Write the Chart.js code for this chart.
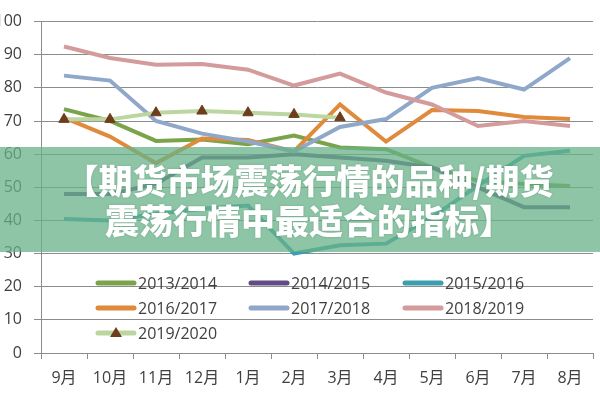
<!DOCTYPE html>
<html>
<head>
<meta charset="utf-8">
<script src="https://cdn.jsdelivr.net/npm/chart.js@4/dist/chart.umd.min.js"></script>
<style>
  html, body { margin: 0; padding: 0; background: #fff; }
  #wrap { position: relative; width: 600px; height: 400px; overflow: hidden; }
  #c { position: absolute; left: 0; top: 0; }
  #banner {
    position: absolute; left: 0; top: 147px; width: 600px; height: 105px;
    background: rgba(103,177,136,0.75);
    box-sizing: border-box; padding: 0 0 0 18px;
    color: #fff; font-family: "Noto Sans CJK SC", sans-serif; font-weight: 900;
    font-size: 34px; line-height: 40px; text-align: center; white-space: nowrap;
    text-shadow: 0 0 2px rgba(40,90,60,0.35);
  }
  #banner .l1 { margin-top: 13px; }
</style>
</head>
<body>
<div id="wrap">
  <canvas id="c" width="600" height="400"></canvas>
  <div id="banner"><div class="l1">【期货市场震荡行情的品种/期货</div><div>震荡行情中最适合的指标】</div></div>
</div>
<script>
const categories = ['9月','10月','11月','12月','1月','2月','3月','4月','5月','6月','7月','8月'];
const seriesNames = ['2013/2014','2014/2015','2015/2016','2016/2017','2017/2018','2018/2019','2019/2020'];
const s2013_2014 = [73.6, 70, 64, 64.4, 63, 65.6, 62, 61.5, 56, 52, 51, 50.4];
const s2014_2015 = [48, 48, 51, 59, 59, 60, 59, 58, 56, 50, 44, 44];
const s2015_2016 = [40.4, 40, 42, 43.5, 44.5, 30, 32.5, 33, 41, 50.5, 59.5, 61];
const s2016_2017 = [71, 65.3, 57.3, 64.7, 64.3, 60.8, 75, 63.8, 73.3, 73, 71.2, 70.6];
const s2017_2018 = [83.7, 82.2, 70, 66.2, 63.8, 60.8, 68.2, 70.6, 80, 83, 79.5, 89];
const s2018_2019 = [92.5, 89, 87, 87.2, 85.5, 80.7, 84.3, 78.6, 75, 68.5, 70, 68.5];
const s2019_2020 = [70.5, 70.5, 72.5, 73, 72.5, 72, 71, null, null, null, null, null];
const yMin = 0, yMax = 100, yStep = 10;

const colors = ['#7aa34a', '#634c84', '#3d9fae', '#e08a3c', '#8fa8ca', '#d49b9c', '#bcd6a2'];
const markerColor = '#6e3d1c';
const seriesValues = [s2013_2014, s2014_2015, s2015_2016, s2016_2017, s2017_2018, s2018_2019, s2019_2020];

const datasets = seriesValues.map((vals, i) => ({
  label: seriesNames[i],
  data: vals,
  borderColor: colors[i],
  backgroundColor: colors[i],
  borderWidth: 4,
  tension: 0,
  fill: false,
  order: 10 - i,
  pointRadius: i === 6 ? 6 : 0,
  pointStyle: 'triangle',
  pointBackgroundColor: markerColor,
  pointBorderColor: markerColor,
  pointBorderWidth: 1,
  spanGaps: false
}));

const font = "'Open Sans', 'Noto Sans CJK SC', sans-serif";
const gridColor = '#8c8c8c';

const legendPlugin = {
  id: 'insideLegend',
  afterDatasetsDraw(chart) {
    const ctx = chart.ctx;
    const cols = [98, 251, 405];
    const rows = [283, 308, 333];
    ctx.save();
    ctx.font = "16px " + font;
    ctx.textBaseline = 'middle';
    ctx.textAlign = 'left';
    chart.data.datasets.forEach((ds, i) => {
      const x = cols[i % 3], y = rows[Math.floor(i / 3)];
      ctx.strokeStyle = ds.borderColor;
      ctx.lineWidth = 5;
      ctx.lineCap = 'round';
      ctx.beginPath();
      ctx.moveTo(x, y);
      ctx.lineTo(x + 36, y);
      ctx.stroke();
      if (ds.pointRadius > 0) {
        ctx.fillStyle = markerColor;
        ctx.beginPath();
        ctx.moveTo(x + 18, y - 6);
        ctx.lineTo(x + 24, y + 4);
        ctx.lineTo(x + 12, y + 4);
        ctx.closePath();
        ctx.fill();
      }
      ctx.fillStyle = '#404040';
      ctx.fillText(ds.label, x + 40, y + 1);
    });
    ctx.restore();
  }
};

new Chart(document.getElementById('c'), {
  type: 'line',
  data: { labels: categories, datasets },
  plugins: [legendPlugin],
  options: {
    responsive: false,
    animation: false,
    layout: { padding: { top: 16, right: 3, left: 0, bottom: 0 } },
    plugins: { legend: { display: false }, tooltip: { enabled: false }, title: { display: false } },
    scales: {
      x: {
        offset: true,
        grid: { drawOnChartArea: false, offset: true, tickLength: 6, color: gridColor },
        border: { display: true, color: gridColor, width: 1 },
        ticks: { color: '#404040', font: { size: 16, family: font }, padding: 10, maxRotation: 0, autoSkip: false },
        afterFit(scale) { scale.height = 47; }
      },
      y: {
        min: yMin, max: yMax,
        grid: { color: gridColor, tickLength: 7, lineWidth: 1 },
        border: { display: true, color: gridColor, width: 1 },
        ticks: { stepSize: yStep, color: '#404040', font: { size: 16, family: font }, padding: 12 },
        afterFit(scale) { scale.width = 41; }
      }
    }
  }
});
</script>
</body>
</html>
